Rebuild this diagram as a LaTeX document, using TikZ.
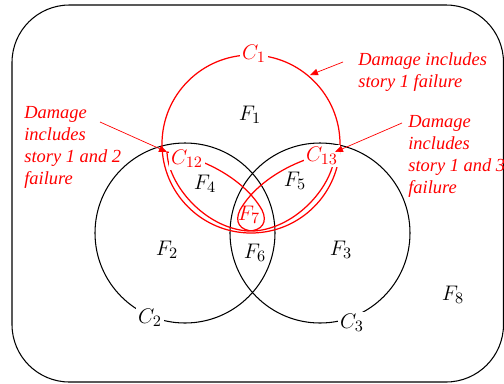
\documentclass[tikz,border=0pt]{standalone}
\usepackage{fontspec}
\setmainfont{Liberation Serif}
\usepackage{xcolor}
\usepackage{tikz}
\usetikzlibrary{arrows.meta,positioning}
\definecolor{dmgred}{RGB}{255,0,0}

\begin{document}
\begin{tikzpicture}[
  x=0.02cm,
  y=-0.02cm,
  set/.style={draw=black,line width=0.6pt},
  redset/.style={draw=dmgred,line width=0.7pt},
  lbl/.style={
    inner sep=1pt,
    font=\fontsize{13}{15}\selectfont
  },
  cut/.style={lbl,fill=white},
  note/.style={
    text=dmgred,
    align=left,
    inner sep=0pt,
    anchor=north west,
    font=\fontsize{10.5}{12.5}\selectfont\itshape
  },
  arrow/.style={-{Triangle[length=1.6mm,width=1.3mm]},draw=dmgred,line width=0.4pt}
]
\useasboundingbox (0,0) rectangle (504,383);
% universe
\draw[set,rounded corners=1.15cm] (12,5) rectangle (503.5,382);

% centres and lens tips
\coordinate (c1) at (251,144);
\coordinate (c2) at (185,233);
\coordinate (c3) at (320,233);
\coordinate (t12) at (167,152);
\coordinate (t13) at (335,152);
\coordinate (hit1) at (310,75);

\draw[set] (c2) circle[radius=90];
\draw[set] (c3) circle[radius=90];
\draw[redset] (c1) circle[radius=89];

% C12 and C13
\draw[redset] (t12) .. controls (168,185) and (205,228) .. (248,231)
  .. controls (262,231) and (268,222) .. (262,210)
  .. controls (245,180) and (205,158) .. (t12);
\draw[redset] (t13) .. controls (334,185) and (297,228) .. (254,231)
  .. controls (240,231) and (234,222) .. (240,210)
  .. controls (257,180) and (297,158) .. (t13);

% labels
\node[cut,text=dmgred] (C1) at (254,54) {$C_1$};
\node[cut] (C2) at (150,318) {$C_2$};
\node[cut] (C3) at (352,323) {$C_3$};
\node[cut,text=dmgred] (C12) at (187,159) {$C_{12}$};
\node[cut,text=dmgred] (C13) at (322,156) {$C_{13}$};
\node[lbl] (F1) at (250,115) {$F_1$};
\node[lbl] (F2) at (167,250) {$F_2$};
\node[lbl] (F3) at (341,250) {$F_3$};
\node[lbl] (F4) at (205,184) {$F_4$};
\node[lbl] (F5) at (295,181) {$F_5$};
\node[lbl] (F6) at (255,253) {$F_6$};
\node[lbl,text=dmgred] (F7) at (249,215) {$F_7$};
\node[lbl] (F8) at (453,295) {$F_8$};

% notes
\node[note] (note1) at (358,52) {Damage includes\\story 1 failure};
\node[note] (note12) at (24,106) {Damage\\includes\\story 1 and 2\\failure};
\node[note] (note13) at (408,115) {Damage\\includes\\story 1 and 3\\failure};

\draw[arrow] ([shift={(-15,10)}]note1.north west) -- (hit1);
\draw[arrow] ([shift={(76,16)}]note12.north west) -- (t12);
\draw[arrow] ([shift={(-6,8)}]note13.north west) -- (t13);
\end{tikzpicture}
\end{document}
